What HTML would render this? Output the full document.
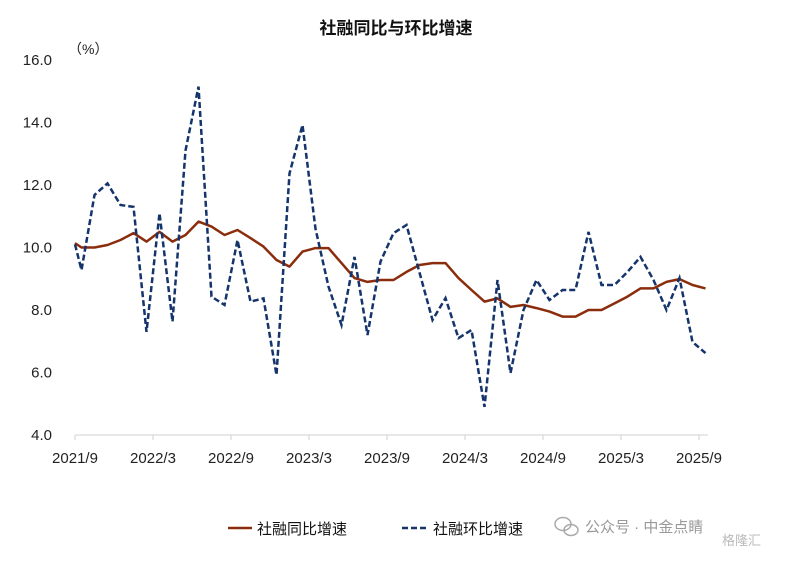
<!DOCTYPE html>
<html><head><meta charset="utf-8"><style>
body{margin:0;background:#fff;}
svg text{font-family:"Liberation Sans","Noto Sans CJK SC",sans-serif;}
</style></head><body>
<svg id="chart" width="792" height="556" xmlns="http://www.w3.org/2000/svg">
<text x="396" y="34" text-anchor="middle" font-size="17" font-weight="bold" fill="#111">社融同比与环比增速</text>
<text x="68" y="54" font-size="14" fill="#222">（%）</text>
<g id="yaxis"></g>
<g id="xaxis"></g>
<g id="series"></g>
<g>
<line x1="228" y1="528" x2="252" y2="528" stroke="#8b2d0c" stroke-width="2.5"/>
<text x="257" y="534" font-size="15" fill="#111">社融同比增速</text>
<line x1="402" y1="528" x2="428" y2="528" stroke="#14346b" stroke-width="2.5" stroke-dasharray="6,3"/>
<text x="433" y="534" font-size="15" fill="#111">社融环比增速</text>
</g>
<g fill="none" stroke="#aaa" stroke-width="1.5">
<ellipse cx="563" cy="524" rx="8" ry="6.5"/><ellipse cx="571" cy="530" rx="7" ry="5.5"/>
</g>
<text x="585" y="532" font-size="15" fill="#999">公众号 · 中金点睛</text>
<text x="722" y="545" font-size="13" fill="#bbb">格隆汇</text>
</svg>
<script>
const categories=[];for(let y=2021,m=8;categories.length<50;){categories.push(y+'/'+m);m++;if(m>12){m=1;y++;}}
const yoyValues=[10.14,10.0,10.0,10.08,10.24,10.46,10.19,10.5,10.19,10.4,10.83,10.67,10.4,10.56,10.3,10.03,9.6,9.39,9.87,9.98,9.98,9.5,9.02,8.9,8.96,8.96,9.22,9.44,9.5,9.5,9.02,8.64,8.27,8.37,8.1,8.16,8.06,7.95,7.79,7.79,8.0,8.0,8.21,8.43,8.69,8.69,8.9,8.99,8.8,8.69];
const momValues=[10.1,9.28,11.68,12.05,11.36,11.3,7.3,11.1,7.63,13.1,15.15,8.43,8.16,10.24,8.27,8.37,5.92,12.37,13.92,10.6,8.75,7.52,9.7,7.2,9.55,10.46,10.72,9.2,7.68,8.38,7.1,7.36,4.9,8.96,5.98,8.0,8.96,8.32,8.64,8.64,10.5,8.8,8.8,9.22,9.7,8.96,8.0,9.02,6.98,6.62];
const yTicks=[4,6,8,10,12,14,16];
const xTickLabels=['2021/9','2022/3','2022/9','2023/3','2023/9','2024/3','2024/9','2025/3','2025/9'];
const NS='http://www.w3.org/2000/svg';
function xs(i){return Math.max(75,68.5+13*i);}
function ys(v){return 435-31.25*(v-4);}
function mk(t,a,p){const e=document.createElementNS(NS,t);for(const k in a)e.setAttribute(k,a[k]);p.appendChild(e);return e;}
const ya=document.getElementById('yaxis'),xa=document.getElementById('xaxis'),sg=document.getElementById('series');
yTicks.forEach(v=>{const t=mk('text',{x:52,y:ys(v)+5,'text-anchor':'end','font-size':15,fill:'#222'},ya);t.textContent=v.toFixed(1);

});
const ax=mk('line',{x1:75,y1:435,x2:708,y2:435,stroke:'#d0d0d0','stroke-width':1},xa);


xTickLabels.forEach(l=>{const i=categories.indexOf(l);const x=68.5+13*i-6.5;
const tk=mk('line',{x1:x,y1:435,x2:x,y2:440,stroke:'#d0d0d0'},xa);


const t=mk('text',{x:x,y:463,'text-anchor':'middle','font-size':15,fill:'#222'},xa);t.textContent=l;

});
function path(vals){return vals.map((v,i)=>(i?'L':'M')+xs(i).toFixed(1)+','+ys(v).toFixed(1)).join('');}
const p1=mk('path',{d:path(yoyValues),fill:'none',stroke:'#8b2d0c','stroke-width':2.5,'stroke-linejoin':'round'},sg);


const p2=mk('path',{d:path(momValues),fill:'none',stroke:'#14346b','stroke-width':2.5,'stroke-dasharray':'6,3'},sg);


</script>
</body></html>
